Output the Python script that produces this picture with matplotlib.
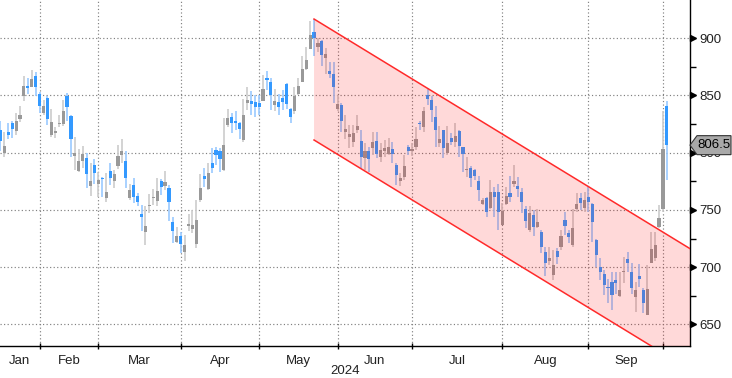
import numpy as np
import pandas as pd
import matplotlib
matplotlib.use("Agg")
import matplotlib.pyplot as plt
import matplotlib.transforms as mtransforms
from matplotlib.patches import Polygon

# ---------------- data ----------------
start_date = "2024-01-17"
end_date = "2024-10-08"
exchange_holidays = ["2024-02-09", "2024-02-12", "2024-02-13", "2024-02-14", "2024-02-15",
                     "2024-02-16", "2024-04-04", "2024-04-05", "2024-05-01", "2024-05-02",
                     "2024-05-03", "2024-06-10", "2024-09-16", "2024-09-17", "2024-10-01",
                     "2024-10-02", "2024-10-03", "2024-10-04", "2024-10-07"]

opens = [820, 800, 818, 826, 819, 829, 849, 858, 857, 867, 851,                       # Jan
         835, 848, 815, 817, 825, 825, 849, 832, 797, 784, 793, 795, 771, 789, 773,   # Feb
         778, 760, 784, 775, 788, 798, 793, 760, 772, 762, 746, 731, 753, 760, 758,
         775.5, 771, 769, 739, 722, 727,                                              # Mar
         713.5, 736, 733, 720, 759, 780, 768, 791, 802, 801, 785, 824, 831, 828, 826,
         811, 843, 845, 844, 843,                                                     # Apr
         845, 865, 862, 841.5, 844, 848, 860, 838, 836, 851, 862, 873, 890, 905, 892,
         897, 883, 871, 869, 838,                                                     # May
         841.5, 818, 814, 809.5, 820, 810, 795, 801, 804, 810, 796, 801, 799, 803, 789,
         775, 779, 805, 801,                                                          # Jun
         805, 826, 822, 850, 846, 831, 808, 820, 800, 813, 809.5, 819, 804.6, 785, 787,
         785, 775, 755, 760.6, 751.4, 766, 766, 737,                                  # Jul
         755, 764.5, 773, 771, 766, 751, 732.5, 745.6, 735.4, 731, 713.5, 705, 693, 714,
         718, 741, 729.6, 719.4, 750.5, 760, 751.4, 761.5,                            # Aug
         755, 723.7, 700.4, 694, 683, 687, 689, 675, 695.8, 707, 696, 674.3, 692.6, 680,
         658.3, 704, 707.8, 735.4, 751,                                               # Sep
         841]                                                                         # Oct
highs = [828, 818, 826, 828, 835, 841, 867, 865, 872, 870, 853,
         846, 849, 838, 822, 833, 846, 852, 833, 814, 803, 806, 800, 791, 794, 783,
         779, 782, 791, 785, 807, 812, 801, 773, 778, 765, 754, 753, 764, 768, 778,
         777, 784, 772, 744, 735, 731,
         728, 746, 750, 759, 781, 787, 791, 804, 805, 804, 830, 838, 835, 836, 827,
         847, 857, 854, 850, 850,
         868, 871, 865, 855.5, 851, 855, 861, 839, 857.5, 865, 884, 892, 915, 916.5, 900,
         898, 891, 879, 879, 850,
         843, 833, 824, 824, 833, 820, 808, 805, 818, 818, 808, 811, 812.5, 809.5, 791,
         782, 798, 807, 808,
         822, 828, 840, 856, 849, 841, 823, 820, 823, 817, 826, 820, 805, 796, 788,
         786, 780, 760, 761.5, 776, 770, 773, 756,
         770, 780, 789, 779, 769, 753, 753, 750, 751, 732.5, 718, 718, 715, 716.5,
         732.5, 748, 732.5, 751, 764.5, 764.5, 766, 770,
         756, 725, 708, 697.6, 690, 696, 696, 696, 709, 713.5, 703.4, 687, 703, 681.6,
         702, 731, 731, 754, 836,
         845]
lows = [801, 796, 812, 813, 815, 827, 845, 851, 857, 849, 835,
        833, 824, 814, 813, 822, 823, 828, 796, 785, 783, 787, 769, 762, 773, 761,
        761, 757, 772, 769, 786, 791, 769, 759, 756, 753, 732, 719, 747, 754, 753,
        763, 767, 740, 721, 721, 712,
        705, 732, 730, 717, 757, 770, 767, 782, 789, 783, 784, 822, 817, 820, 812,
        809, 837, 833, 831, 833,
        845, 855, 837, 836, 833, 837, 838, 826, 834, 850, 862, 872, 890, 884, 888,
        876, 869, 865, 843, 836,
        818, 812, 804, 805, 817, 786, 785, 783, 798, 795, 792, 796, 798, 791, 772,
        771, 776, 798, 797,
        802, 820, 818, 841.5, 827, 805, 805, 795, 798, 806.6, 805, 796, 783, 779, 770,
        776, 758, 754, 744, 751, 744, 732.5, 737,
        754, 757, 770, 761.5, 747, 734, 731, 727, 734, 712, 692, 702, 689, 703,
        715, 728, 721, 718, 748, 750, 748, 748,
        722, 700, 689, 676, 668.5, 663, 677, 674, 686, 696, 677, 661, 683, 660,
        658, 703.4, 705, 734, 748,
        776]
closes = [810, 806, 815, 821, 828, 833, 858, 856, 864, 857, 841,
          841, 829, 827, 819, 826, 836, 840, 812, 800, 793, 799, 781, 775, 782, 776,
          777, 766, 778, 781, 797, 801, 778, 767, 761, 757, 744, 736, 754, 761.5, 766.5,
          770, 774, 757, 732, 727, 720,
          719, 738, 737, 741, 769, 777, 782, 787, 798, 794, 807, 830, 826, 826, 821,
          833, 846, 842, 840, 840,
          855.5, 863, 850, 845, 840, 844, 842, 831, 849, 858, 873, 881, 903, 900, 896,
          885, 886, 869, 857, 842,
          827.6, 821, 816, 817, 823, 796, 801, 794, 809.5, 799, 802, 804, 805, 799, 780.5,
          778, 788, 801, 803,
          812, 825, 836, 847, 837, 820, 812, 804, 808.6, 809, 814.5, 806, 799, 786, 778,
          780, 767, 758.6, 748.4, 766, 761.5, 748.4, 749,
          762, 761.5, 775, 768, 757, 740, 747, 735, 739, 718, 703.4, 707.7, 702, 709,
          727, 736, 726, 734, 755, 756, 758.6, 757,
          739, 710.6, 696, 684.5, 681.6, 676, 686.5, 680, 696.7, 704, 681.6, 680, 689.4, 668.5,
          681, 715.6, 719.4, 742.7, 803,
          806.5]

y_ticks = [650, 700, 750, 800, 850, 900]
y_minor_ticks = [675, 725, 775, 825, 875]
month_labels = ["Jan", "Feb", "Mar", "Apr", "May", "Jun", "Jul", "Aug", "Sep"]
year_label = "2024"

channel_start = "2024-05-23"
channel_upper_start = 916.6
channel_lower_start = 811.0
channel_slope_per_day = -2.09

# ---------------- build ----------------
days = pd.bdate_range(start_date, end_date)
days = days[~days.isin(pd.to_datetime(exchange_holidays))]
n = len(days)
assert len(opens) == len(highs) == len(lows) == len(closes) == n
x = np.arange(n)
o = np.array(opens, float); h = np.array(highs, float)
l = np.array(lows, float); c = np.array(closes, float)

plt.rcParams['font.family'] = ['Liberation Sans', 'DejaVu Sans']

W, H = 732, 378
fig = plt.figure(figsize=(W / 100, H / 100), dpi=100)
ax_w_px, ax_h_px = 690, 346
ax = fig.add_axes([0, (H - ax_h_px) / H, ax_w_px / W, ax_h_px / H])

xmin, xmax = -0.1, 175.9
ymin, ymax = 631.2, 933.2
ax.set_xlim(xmin, xmax)
ax.set_ylim(ymin, ymax)

blue, blue_wick = '#3399ff', '#99c9ff'
gray, gray_wick = '#999999', '#cccccc'
up = c >= o
wick_colors = np.where(up, gray_wick, blue_wick)
body_colors = np.where(up, gray, blue)
ax.vlines(x, l, h, colors=wick_colors, linewidth=1.2, zorder=2)
body_h = np.maximum(np.abs(c - o), 0.9)
ax.bar(x, body_h, bottom=np.minimum(o, c), width=0.8, color=body_colors,
       linewidth=0, zorder=2.2)

# month ends (last trading day of each month Jan..Sep)
periods = days.to_period('M')
month_ends = []
for p in pd.unique(periods)[:len(month_labels)]:
    month_ends.append(x[periods == p][-1])

ax.set_xticks(month_ends)
ax.set_xticklabels([])
ax.tick_params(axis='x', direction='inout', length=5, width=1, color='black')
xt = mtransforms.blended_transform_factory(ax.transData, ax.transAxes)
prev = xmin
for lab, me in zip(month_labels, month_ends):
    ax.text((prev + me) / 2, -0.026, lab, transform=xt,
            ha='center', va='top', fontsize=9.5, color='#222222')
    prev = me
fig.text(345 / W, 1 - 371 / H, year_label, ha='center', va='center', fontsize=9.5, color='#222222')

# y axis on right
ax.yaxis.tick_right()
ax.set_yticks(y_ticks)
ax.set_yticklabels([str(v) for v in y_ticks])
ax.set_yticks(y_minor_ticks, minor=True)
ax.tick_params(axis='y', which='major', length=0, pad=7, labelsize=9.5, labelcolor='#222222')
ax.tick_params(axis='y', which='minor', length=4, width=1, color='black', direction='out')
bt = mtransforms.blended_transform_factory(ax.transAxes, ax.transData)
ax.plot([1 + 2.9 / ax_w_px] * len(y_ticks), y_ticks, linestyle='none', marker='>', markersize=4.3,
        color='black', transform=bt, clip_on=False, zorder=5)

ax.grid(True, which='major', color='#808080', linestyle=(0, (1, 2)), linewidth=0.85)
ax.set_axisbelow(True)
for s in ['left', 'top']:
    ax.spines[s].set_visible(False)
for s in ['right', 'bottom']:
    ax.spines[s].set_color('black')
    ax.spines[s].set_linewidth(1)

# channel
x0 = x[days == pd.Timestamp(channel_start)][0]
xe = xmax
up0, lo0 = channel_upper_start, channel_lower_start
upe = up0 + channel_slope_per_day * (xe - x0)
loe = lo0 + channel_slope_per_day * (xe - x0)
ax.add_patch(Polygon([(x0, up0), (xe, upe), (xe, loe), (x0, lo0)], closed=True,
                     facecolor=(1, 0, 0, 0.15), edgecolor='none', zorder=3))
ax.plot([x0, xe], [up0, upe], color='#ff2a2a', lw=1.1, zorder=4)
ax.plot([x0, xe], [lo0, loe], color='#ff2a2a', lw=1.1, zorder=4)

# last price tag
yl = c[-1]
hh = 9.5 * (ymax - ymin) / ax_h_px
tip, bx0, bx1 = 1.0, 1 + 7 / ax_w_px, 1 + 41 / ax_w_px
tag = Polygon([(tip, yl), (bx0, yl + hh), (bx1, yl + hh), (bx1, yl - hh), (bx0, yl - hh)],
              closed=True, transform=bt, facecolor='#a9a9a9', edgecolor='#333333', lw=0.8,
              clip_on=False, zorder=10)
ax.add_patch(tag)
ax.text((bx0 + bx1) / 2, yl, f"{yl:g}", transform=bt, ha='center', va='center', fontsize=9.5,
        color='black', zorder=11, clip_on=False)

fig.savefig("out.png", dpi=100)
